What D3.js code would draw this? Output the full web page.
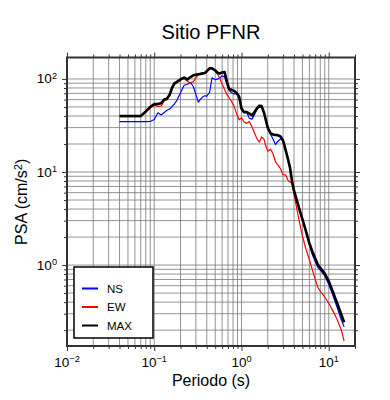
<!DOCTYPE html>
<html>
<head>
<meta charset="utf-8">
<script src="https://cdn.jsdelivr.net/npm/d3@7"></script>
<style>
  body { margin: 0; background: #fff; }
  text { font-family: "Liberation Sans", Arial, Helvetica, sans-serif; fill: #000; }
</style>
</head>
<body>
<div id="chart"></div>
<script>
// periodo (s)
const periods = [0.04, 0.05, 0.06, 0.07, 0.08, 0.09, 0.1, 0.11, 0.12, 0.13, 0.14, 0.15, 0.16, 0.17, 0.18,
  0.2, 0.22, 0.24, 0.26, 0.28, 0.3, 0.32, 0.34, 0.36, 0.38, 0.4,
  0.43, 0.46, 0.5, 0.53, 0.56, 0.6, 0.64, 0.68, 0.72, 0.77, 0.82, 0.88, 0.94,
  1.0, 1.07, 1.15, 1.23, 1.32, 1.41, 1.5, 1.6, 1.7, 1.8, 1.9,
  2.0, 2.15, 2.3, 2.45, 2.6, 2.8, 3.0, 3.2, 3.4, 3.6, 3.8, 4.0,
  4.5, 5.0, 5.5, 6.0, 6.5, 7.0, 7.5, 8.0, 9.0,
  10, 11, 12, 13, 14, 15];

// PSA (cm/s2)
const nsValues = [34.7, 34.8, 34.8, 34.8, 34.8, 34.9, 36.6, 43.3, 41.0, 43.6, 46.0, 47.5, 50.5, 54.0, 58.0,
  71.1, 85.6, 87.6, 91.7, 82.9, 68.2, 56.4, 60.6, 64.3, 65.9, 65.4,
  71.5, 103.0, 98.0, 99.5, 102.2, 108.0, 105.3, 88.6, 75.5, 71.0, 68.9, 69.6, 64.3,
  48.0, 43.9, 43.6, 37.7, 37.0, 41.4, 46.7, 49.9, 49.5, 43.9, 36.3,
  30.0, 25.5, 22.6, 19.7, 21.3, 22.7, 21.7, 17.3, 13.9, 11.1, 7.9, 6.3,
  4.29, 3.09, 2.28, 1.66, 1.29, 1.09, 0.947, 0.88, 0.772,
  0.618, 0.49, 0.391, 0.313, 0.255, 0.217];

const ewValues = [39.3, 39.3, 39.3, 39.3, 43.9, 48.6, 52.3, 50.7, 51.0, 58.4, 60.0, 66.6, 78.7, 87.7, 90.2,
  96.6, 101.3, 94.3, 90.4, 93.1, 103.5, 110.4, 112.9, 114.3, 115.4, 120.0,
  129.3, 129.3, 123.3, 112.9, 103.0, 88.0, 76.8, 68.2, 63.2, 57.3, 51.4, 42.1, 36.4,
  38.3, 34.5, 33.3, 34.9, 30.4, 26.2, 22.9, 20.9, 23.8, 22.8, 19.0,
  16.7, 17.6, 15.7, 12.9, 11.9, 10.9, 9.29, 9.33, 8.19, 7.79, 7.55, 5.78,
  3.25, 2.04, 1.47, 1.14, 0.884, 0.701, 0.577, 0.525, 0.454,
  0.389, 0.33, 0.281, 0.237, 0.198, 0.152];

const maxValues = [40.0, 40.0, 40.0, 40.0, 44.8, 49.9, 53.6, 53.8, 54.9, 60.0, 61.3, 67.7, 80.1, 89.5, 92.4,
  98.8, 103.5, 98.8, 104.8, 109.3, 110.9, 112.3, 113.4, 114.8, 115.9, 120.9,
  130.2, 129.9, 123.3, 116.5, 114.6, 117.4, 118.9, 93.8, 78.1, 76.4, 74.5, 70.6, 64.3,
  48.0, 44.0, 44.0, 42.5, 40.6, 44.2, 48.3, 51.6, 51.2, 44.2, 36.3,
  30.0, 26.1, 25.3, 25.0, 24.9, 24.1, 21.7, 17.3, 13.9, 11.1, 7.9, 6.3,
  4.29, 3.09, 2.29, 1.72, 1.39, 1.18, 1.01, 0.933, 0.809,
  0.672, 0.533, 0.429, 0.353, 0.291, 0.243];

const seriesNames = ["NS", "EW", "MAX"];
const xTicks = [0.01, 0.1, 1, 10];
const yTicks = [1, 10, 100];

const width = 390, height = 400;
const colors = { NS: "#0000ff", EW: "#ff0000", MAX: "#000000" };
const widths = { NS: 1.2, EW: 1.2, MAX: 2.6 };

const svg = d3.select("#chart").append("svg")
  .attr("width", width)
  .attr("height", height);

const x = d3.scaleLog().domain([0.01, 20]).range([67, 355]);
const y = d3.scaleLog().domain([0.135, 170]).range([346, 57.5]);

const x0 = x.range()[0], x1 = x.range()[1];
const y0 = y.range()[0], y1 = y.range()[1];

// grid
const grid = svg.append("g").attr("class", "grid");
grid.selectAll(".vgrid")
  .data(x.ticks())
  .enter().append("line")
  .attr("x1", d => x(d)).attr("x2", d => x(d))
  .attr("y1", y1).attr("y2", y0)
  .attr("stroke", "#777")
  .attr("stroke-width", 0.8);
grid.selectAll(".hgrid")
  .data(y.ticks())
  .enter().append("line")
  .attr("x1", x0).attr("x2", x1)
  .attr("y1", d => y(d)).attr("y2", d => y(d))
  .attr("stroke", "#777")
  .attr("stroke-width", 0.8);

// ticks on the four sides
function tickAxis(axisFn, scale, values, size, tx, ty) {
  const g = svg.append("g")
    .attr("transform", "translate(" + tx + "," + ty + ")")
    .call(axisFn(scale).tickValues(values).tickSize(size).tickFormat(""));
  g.select(".domain").remove();
  g.selectAll("line").attr("stroke", "#333").attr("stroke-width", 1);
}
const xMinor = x.ticks().filter(d => xTicks.indexOf(d) < 0);
const yMinor = y.ticks().filter(d => yTicks.indexOf(d) < 0);
tickAxis(d3.axisBottom, x, xMinor, 3, 0, y0);
tickAxis(d3.axisBottom, x, xTicks, 5, 0, y0);
tickAxis(d3.axisTop, x, xMinor, 3, 0, y1);
tickAxis(d3.axisTop, x, xTicks, 5, 0, y1);
tickAxis(d3.axisLeft, y, yMinor, 3, x0, 0);
tickAxis(d3.axisLeft, y, yTicks, 5, x0, 0);
tickAxis(d3.axisRight, y, yMinor, 3, x1, 0);
tickAxis(d3.axisRight, y, yTicks, 5, x1, 0);

// tick labels 10^n
function powLabel(sel) {
  sel.append("tspan").text("10");
  sel.append("tspan")
    .attr("dy", "-0.5em")
    .attr("font-size", "0.68em")
    .text(d => {
      const e = Math.round(Math.log10(d));
      return e < 0 ? "\u2212" + (-e) : "" + e;
    });
}
svg.append("g").selectAll("text")
  .data(xTicks)
  .enter().append("text")
  .attr("x", d => x(d))
  .attr("y", y0 + 21)
  .attr("text-anchor", "middle")
  .attr("font-size", 13.5)
  .call(powLabel);

svg.append("g").selectAll("text")
  .data(yTicks)
  .enter().append("text")
  .attr("x", x0 - 10)
  .attr("y", d => y(d) + 4.5)
  .attr("text-anchor", "end")
  .attr("font-size", 13.5)
  .call(powLabel);

// curves
const line = d3.line()
  .x(d => x(d[0]))
  .y(d => y(d[1]));

const seriesData = {
  NS: periods.map((p, i) => [p, nsValues[i]]),
  EW: periods.map((p, i) => [p, ewValues[i]]),
  MAX: periods.map((p, i) => [p, maxValues[i]])
};

seriesNames.forEach(name => {
  svg.append("path")
    .datum(seriesData[name])
    .attr("d", line)
    .attr("fill", "none")
    .attr("stroke", colors[name])
    .attr("stroke-width", widths[name])
    .attr("stroke-linejoin", "round");
});

// frame
svg.append("rect")
  .attr("x", x0).attr("y", y1)
  .attr("width", x1 - x0).attr("height", y0 - y1)
  .attr("fill", "none")
  .attr("stroke", "#333")
  .attr("stroke-width", 2);

// legend
const legend = svg.append("g").attr("transform", "translate(74,267)");
legend.append("rect")
  .attr("width", 79).attr("height", 71)
  .attr("fill", "#fff")
  .attr("stroke", "#000")
  .attr("stroke-width", 1.5);
seriesNames.forEach((name, i) => {
  const ly = 21.5 + i * 18.5;
  legend.append("line")
    .attr("x1", 8).attr("x2", 24)
    .attr("y1", ly).attr("y2", ly)
    .attr("stroke", colors[name])
    .attr("stroke-width", 2);
  legend.append("text")
    .attr("x", 33).attr("y", ly + 4)
    .attr("font-size", 11.5)
    .text(name);
});

// titles
svg.append("text")
  .attr("x", (x0 + x1) / 2).attr("y", 39)
  .attr("text-anchor", "middle")
  .attr("font-size", 20)
  .text("Sitio PFNR");

svg.append("text")
  .attr("x", (x0 + x1) / 2).attr("y", 386)
  .attr("text-anchor", "middle")
  .attr("font-size", 16)
  .text("Periodo (s)");

const ylab = svg.append("text")
  .attr("transform", "translate(27," + ((y0 + y1) / 2) + ") rotate(-90)")
  .attr("text-anchor", "middle")
  .attr("font-size", 16);
ylab.append("tspan").text("PSA (cm/s");
ylab.append("tspan").attr("dy", "-0.45em").attr("font-size", "0.7em").text("2");
ylab.append("tspan").attr("dy", "0.315em").text(")");
</script>
</body>
</html>
